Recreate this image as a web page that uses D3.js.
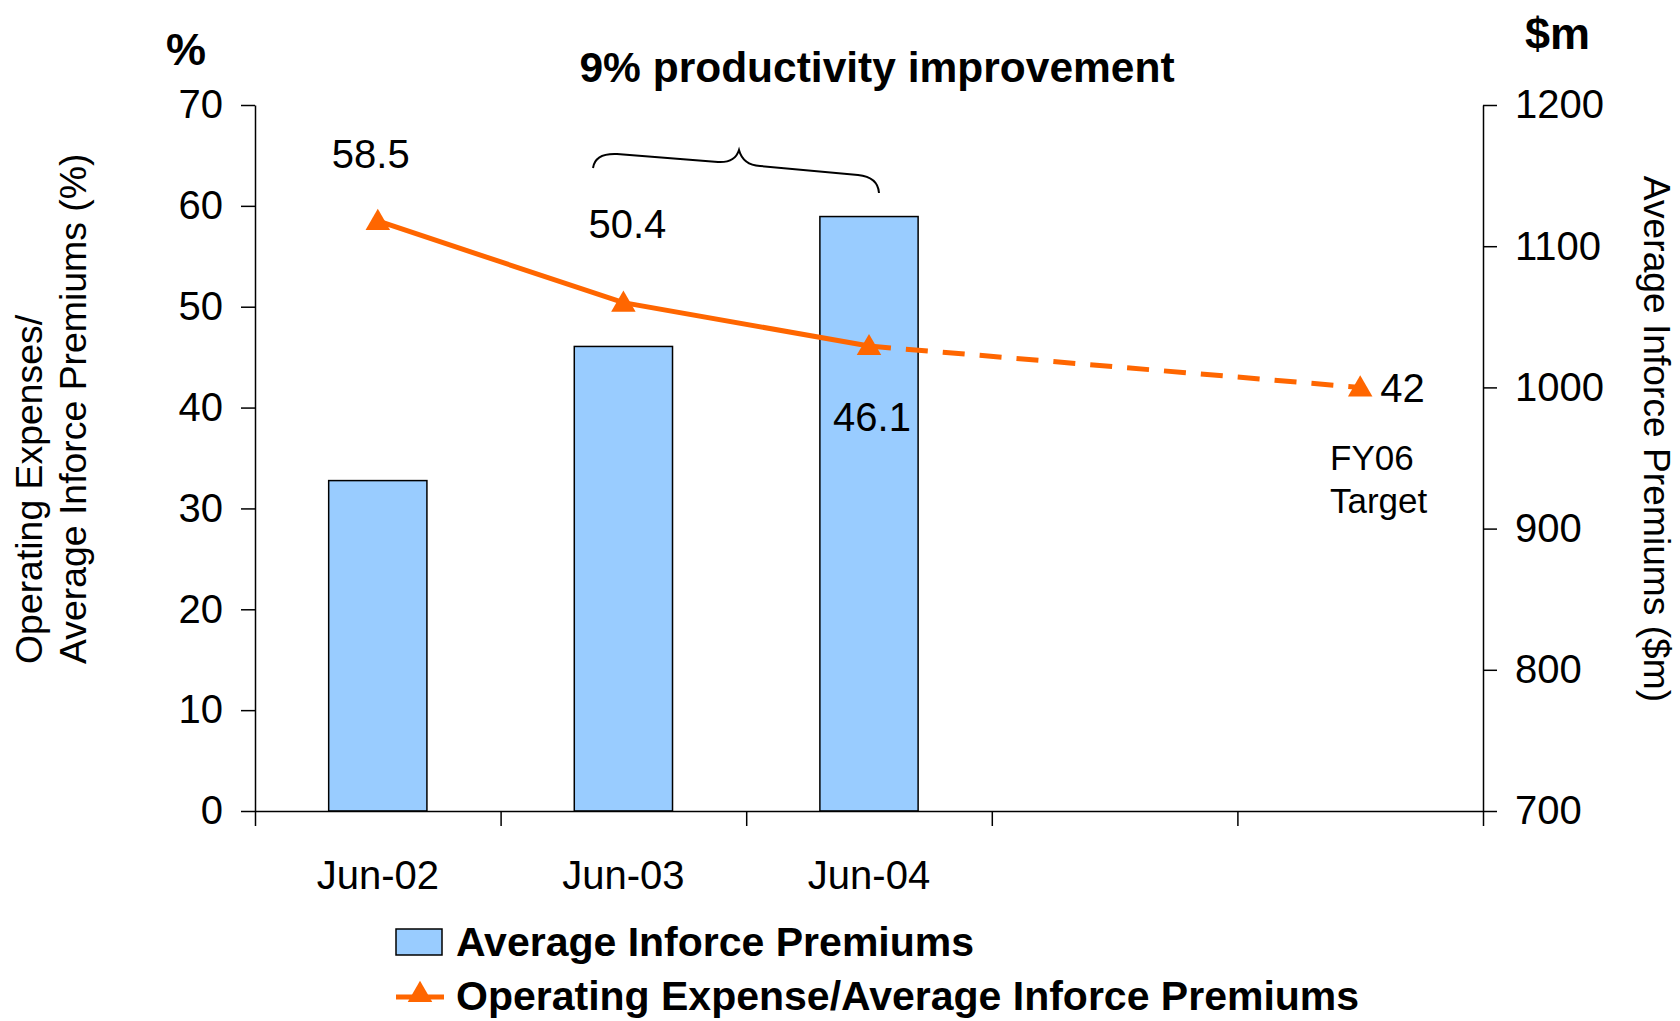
<!DOCTYPE html>
<html>
<head>
<meta charset="utf-8">
<script src="https://cdn.jsdelivr.net/npm/d3@7"></script>
<style>
  body { margin: 0; background: #fff; }
  svg { display: block; font-family: "Liberation Sans", Arial, sans-serif; }
  .axis path, .axis line { stroke: #000; stroke-width: 1.5px; }
  .axis text { font-size: 40px; fill: #000; }
</style>
</head>
<body>
<svg id="chart" width="1680" height="1021"></svg>
<script>
// Categories along the x axis (the last two slots hold the FY06 target)
var categories = ['Jun-02', 'Jun-03', 'Jun-04', 'gap', 'FY06'];
var categoryLabels = ['Jun-02', 'Jun-03', 'Jun-04', '', ''];

// Average inforce premiums, $m (right axis)
var premiums = [934, 1029, 1121];

// Operating expense / average inforce premiums, % (left axis)
var expenseRatio = [58.5, 50.4, 46.1, null, 42];

var leftTicks = [0, 10, 20, 30, 40, 50, 60, 70];
var rightTicks = [700, 800, 900, 1000, 1100, 1200];

var svg = d3.select('#chart');
var orange = '#ff6600';
var barFill = '#99ccff';

var plot = {left: 255, right: 1483, top: 105, bottom: 811};

var x = d3.scaleBand()
    .domain(categories)
    .range([plot.left, plot.right])
    .padding(0);

var xEdges = d3.scaleLinear()
    .domain([0, categories.length])
    .range([plot.left, plot.right]);

var yLeft = d3.scaleLinear().domain([0, 70]).range([plot.bottom, plot.top]);
var yRight = d3.scaleLinear().domain([700, 1200]).range([plot.bottom, plot.top]);

var barWidth = x.bandwidth() * 0.4;

// Bars
svg.append('g').selectAll('rect')
    .data(premiums)
    .enter()
    .append('rect')
        .attr('x', function(d, i) { return x(categories[i]) + (x.bandwidth() - barWidth) / 2; })
        .attr('y', function(d) { return yRight(d); })
        .attr('width', barWidth)
        .attr('height', function(d) { return yRight(700) - yRight(d); })
        .style('fill', barFill)
        .style('stroke', '#000')
        .style('stroke-width', 1.5);

// Axes
svg.append('g')
    .attr('class', 'axis')
    .attr('transform', 'translate(' + plot.left + ',0)')
    .call(d3.axisLeft(yLeft).tickValues(leftTicks).tickSize(14).tickSizeOuter(0).tickPadding(18));

svg.append('g')
    .attr('class', 'axis')
    .attr('transform', 'translate(' + plot.right + ',0)')
    .call(d3.axisRight(yRight).tickValues(rightTicks).tickFormat(d3.format('d'))
        .tickSize(14).tickSizeOuter(0).tickPadding(18));

svg.append('g')
    .attr('class', 'axis')
    .attr('transform', 'translate(0,' + plot.bottom + ')')
    .call(d3.axisBottom(xEdges).tickValues(d3.range(categories.length + 1))
        .tickFormat('').tickSize(15).tickSizeOuter(0));

svg.append('g')
    .attr('class', 'axis')
    .attr('transform', 'translate(0,' + plot.bottom + ')')
    .call(d3.axisBottom(x).tickSize(0).tickPadding(50)
        .tickFormat(function(d, i) { return categoryLabels[i]; }))
    .call(function(g) { g.select('.domain').remove(); });

// Line: actuals solid, projection to target dashed
var pts = expenseRatio.map(function(v, i) {
    return {cx: x(categories[i]) + x.bandwidth() / 2, v: v};
}).filter(function(p) { return p.v !== null; });

var line = d3.line()
    .x(function(p) { return p.cx; })
    .y(function(p) { return yLeft(p.v); });

svg.append('path')
    .datum(pts.slice(0, 3))
    .attr('d', line)
    .style('fill', 'none')
    .style('stroke', orange)
    .style('stroke-width', 5);

svg.append('path')
    .datum(pts.slice(2))
    .attr('d', line)
    .style('fill', 'none')
    .style('stroke', orange)
    .style('stroke-width', 5)
    .style('stroke-dasharray', '22,15');

svg.append('g').selectAll('path')
    .data(pts)
    .enter()
    .append('path')
        .attr('d', d3.symbol().type(d3.symbolTriangle).size(260))
        .attr('transform', function(p) { return 'translate(' + p.cx + ',' + (yLeft(p.v) + 2) + ')'; })
        .style('fill', orange);

// Value labels
var valueLabels = [
    {text: '58.5', dx: -7, y: 168, anchor: 'middle'},
    {text: '50.4', dx: 4, y: 238, anchor: 'middle'},
    {text: '46.1', dx: 3, y: 431, anchor: 'middle'},
    {text: '42', dx: 20, y: 402, anchor: 'start'}
];
svg.append('g').selectAll('text')
    .data(valueLabels)
    .enter()
    .append('text')
        .attr('x', function(d, i) { return pts[i].cx + d.dx; })
        .attr('y', function(d) { return d.y; })
        .attr('text-anchor', function(d) { return d.anchor; })
        .style('font-size', '40px')
        .text(function(d) { return d.text; });

var target = svg.append('text')
    .attr('x', 1330)
    .attr('y', 470)
    .style('font-size', '35px');
target.append('tspan').attr('x', 1330).text('FY06');
target.append('tspan').attr('x', 1330).attr('dy', 43).text('Target');

// Title and brace
svg.append('text')
    .attr('x', 877)
    .attr('y', 82)
    .attr('text-anchor', 'middle')
    .style('font-size', '42.5px')
    .style('font-weight', 'bold')
    .text('9% productivity improvement');

svg.append('path')
    .attr('d', 'M593,168 Q595,153 617,154 L718,162 Q735,163 739,150 Q743,165 760,166 L858,175 Q878,177 879,193')
    .style('fill', 'none')
    .style('stroke', '#000')
    .style('stroke-width', 2);

// Unit labels
svg.append('text')
    .attr('x', 166).attr('y', 65)
    .style('font-size', '45px').style('font-weight', 'bold')
    .text('%');

svg.append('text')
    .attr('x', 1525).attr('y', 49)
    .style('font-size', '45px').style('font-weight', 'bold')
    .text('$m');

// Axis titles
var leftTitle = svg.append('text')
    .attr('transform', 'translate(0,664) rotate(-90)')
    .attr('text-anchor', 'start')
    .style('font-size', '37.4px');
leftTitle.append('tspan').attr('x', 0).attr('y', 42).text('Operating Expenses/');
leftTitle.append('tspan').attr('x', 0).attr('y', 86).text('Average Inforce Premiums (%)');

svg.append('text')
    .attr('transform', 'translate(1644,439) rotate(90)')
    .attr('text-anchor', 'middle')
    .style('font-size', '37.2px')
    .text('Average Inforce Premiums ($m)');

// Legend
var legend = svg.append('g').attr('transform', 'translate(396,0)');
legend.append('rect')
    .attr('x', 0).attr('y', 929).attr('width', 46).attr('height', 26)
    .style('fill', barFill).style('stroke', '#000').style('stroke-width', 1.5);
legend.append('text')
    .attr('x', 60).attr('y', 956)
    .style('font-size', '41px').style('font-weight', 'bold')
    .text('Average Inforce Premiums');

legend.append('line')
    .attr('x1', 0).attr('x2', 48).attr('y1', 997).attr('y2', 997)
    .style('stroke', orange).style('stroke-width', 5);
legend.append('path')
    .attr('d', d3.symbol().type(d3.symbolTriangle).size(260))
    .attr('transform', 'translate(24,995)')
    .style('fill', orange);
legend.append('text')
    .attr('x', 60).attr('y', 1010)
    .style('font-size', '41px').style('font-weight', 'bold')
    .text('Operating Expense/Average Inforce Premiums');
</script>
</body>
</html>
